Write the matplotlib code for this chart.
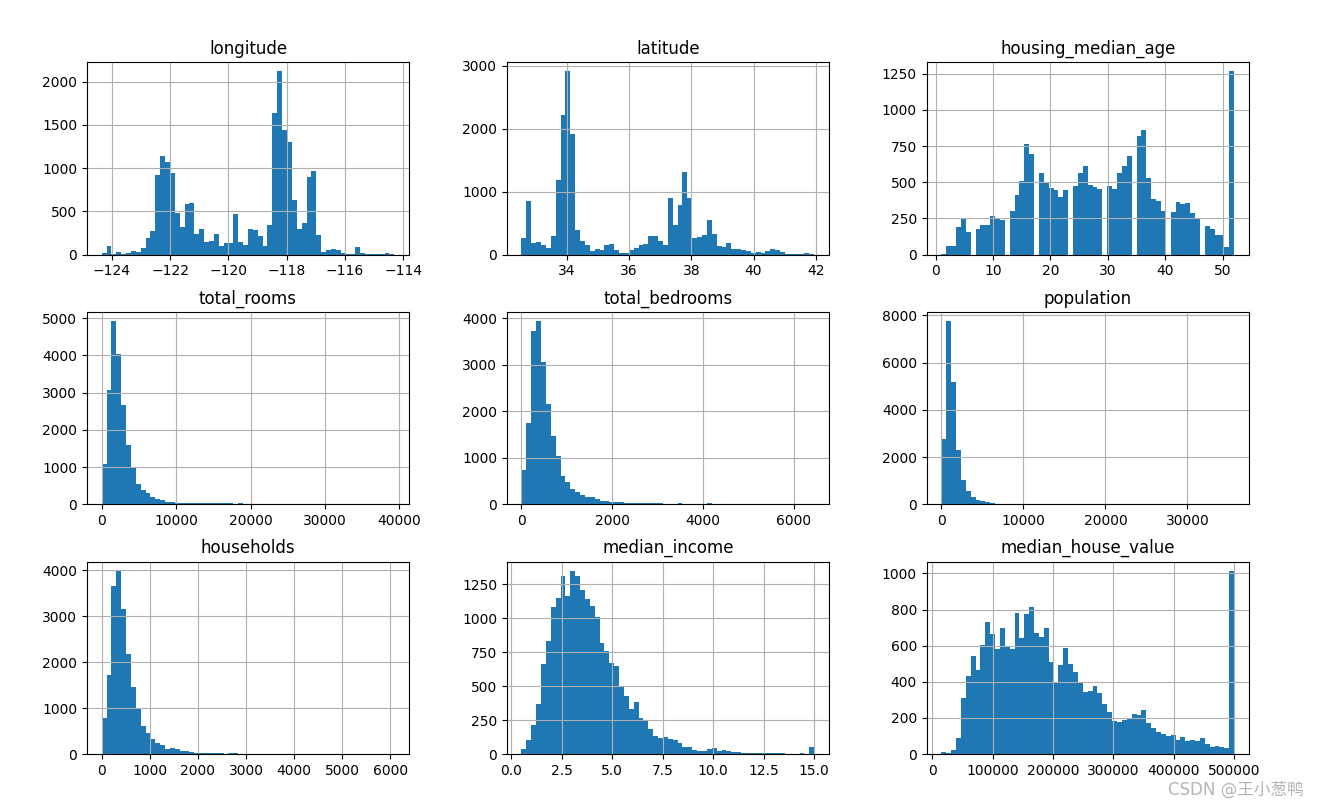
import numpy as np
import matplotlib.pyplot as plt

# bin counts (60 bins per column)
longitude_range = (-124.35, -114.31)
longitude_counts = [25, 100, 10, 35, 10, 20, 45, 35, 80, 190,
                    275, 920, 1140, 1070, 945, 480, 320, 585, 595, 240,
                    295, 150, 160, 240, 105, 140, 140, 470, 150, 115,
                    295, 285, 215, 95, 345, 1640, 2120, 1440, 1300, 630,
                    295, 365, 900, 965, 230, 35, 55, 65, 55, 20,
                    10, 10, 90, 20, 10, 10, 10, 10, 20, 10]

latitude_range = (32.54, 41.95)
latitude_counts = [265, 860, 190, 205, 160, 110, 300, 1180, 2210, 2910,
                   1920, 390, 220, 155, 65, 95, 80, 160, 175, 75,
                   30, 30, 75, 110, 160, 175, 295, 295, 220, 155,
                   905, 470, 785, 1320, 905, 265, 280, 310, 545, 330,
                   145, 130, 190, 95, 85, 80, 65, 35, 45, 35,
                   60, 90, 75, 45, 15, 15, 15, 15, 30, 15]

ages = list(range(1, 53))
age_counts = [5, 60, 60, 190, 245, 160, 175, 205, 205, 265,
              250, 240, 300, 410, 510, 765, 695, 565, 500, 460,
              445, 400, 445, 475, 565, 610, 480, 470, 455, 475,
              455, 565, 610, 680, 820, 860, 530, 385, 370, 300,
              295, 365, 350, 355, 285, 250, 200, 175, 135, 135,
              50, 1265]

rooms_range = (2, 39320)
rooms_counts = [1090, 3080, 4920, 4040, 2680, 1580, 970, 550, 390, 295,
                190, 135, 105, 75, 70, 45, 45, 32, 30, 30,
                28, 28, 27, 27, 26, 26, 25, 0, 28, 3,
                2, 1, 0, 1, 1, 0, 1, 0, 0, 1,
                0, 0, 1, 0, 0, 0, 0, 1, 0, 0,
                0, 0, 0, 0, 0, 0, 0, 0, 0, 1]

bedrooms_range = (1, 6445)
bedrooms_counts = [730, 1740, 3730, 3940, 3070, 2160, 1460, 1030, 620, 470,
                   320, 260, 200, 160, 155, 110, 70, 65, 50, 45,
                   45, 30, 30, 40, 25, 25, 25, 25, 20, 6,
                   5, 4, 25, 3, 2, 3, 2, 2, 25, 1,
                   1, 0, 1, 0, 0, 1, 0, 0, 0, 0,
                   1, 0, 0, 0, 0, 0, 0, 0, 0, 1]

population_range = (3, 35682)
population_counts = [2780, 7760, 5190, 2320, 1050, 550, 300, 180, 140, 110,
                     70, 35, 35, 32, 32, 30, 6, 5, 4, 3,
                     3, 2, 2, 2, 1, 1, 1, 1, 0, 1,
                     0, 0, 0, 1, 0, 0, 0, 0, 0, 0,
                     0, 0, 0, 0, 0, 0, 0, 0, 0, 0,
                     0, 0, 0, 0, 0, 0, 0, 0, 0, 1]

households_range = (1, 6082)
households_counts = [790, 1720, 3650, 3990, 3150, 2170, 1460, 990, 610, 460,
                     330, 240, 200, 120, 140, 100, 75, 55, 50, 25,
                     20, 20, 25, 20, 20, 3, 20, 20, 4, 3,
                     2, 2, 1, 1, 1, 0, 1, 0, 0, 1,
                     0, 0, 0, 0, 0, 0, 0, 0, 0, 0,
                     0, 0, 0, 0, 0, 0, 0, 0, 0, 1]

income_range = (0.4999, 15.0001)
income_counts = [40, 105, 215, 370, 660, 835, 1085, 1150, 1310, 1165,
                 1350, 1310, 1210, 1145, 1090, 1010, 820, 760, 670, 645,
                 490, 425, 335, 385, 265, 245, 185, 130, 120, 125,
                 110, 100, 80, 55, 55, 30, 25, 25, 35, 45,
                 25, 30, 25, 15, 12, 10, 10, 8, 8, 8,
                 7, 6, 6, 6, 2, 3, 2, 10, 3, 50]

house_value_range = (14999, 500001)
house_value_counts = [10, 8, 22, 90, 310, 430, 545, 465, 605, 730,
                      665, 580, 700, 590, 580, 780, 645, 775, 815, 670,
                      650, 695, 510, 400, 495, 585, 500, 455, 400, 345,
                      350, 375, 340, 275, 235, 185, 180, 190, 200, 220,
                      215, 245, 170, 145, 120, 110, 100, 105, 80, 95,
                      70, 75, 70, 90, 55, 40, 45, 40, 35, 1015]

columns = [
    ("longitude", longitude_range, longitude_counts),
    ("latitude", latitude_range, latitude_counts),
    ("housing_median_age", None, age_counts),
    ("total_rooms", rooms_range, rooms_counts),
    ("total_bedrooms", bedrooms_range, bedrooms_counts),
    ("population", population_range, population_counts),
    ("households", households_range, households_counts),
    ("median_income", income_range, income_counts),
    ("median_house_value", house_value_range, house_value_counts),
]

fig, axes = plt.subplots(3, 3, figsize=(13.2, 8.08), dpi=100)
fig.subplots_adjust(left=0.0659, right=0.946, bottom=0.0668, top=0.923,
                    wspace=0.304, hspace=0.297)

for ax, (name, rng, counts) in zip(axes.flat, columns):
    if rng is None:
        # integer ages, let hist do the binning
        ax.hist(ages, bins=60, weights=age_counts, color="C0")
    else:
        edges = np.linspace(rng[0], rng[1], len(counts) + 1)
        centers = (edges[:-1] + edges[1:]) / 2
        ax.hist(centers, bins=edges, weights=counts, color="C0")
    ax.set_title(name)
    ax.grid(True)

fig.text(0.988, 0.011, "CSDN @王小葱鸭", ha="right", va="bottom",
         fontsize=12, color="#b5b5b5",
         family=["DejaVu Sans", "Noto Sans CJK SC"])

fig.savefig("out.png", dpi=100)
